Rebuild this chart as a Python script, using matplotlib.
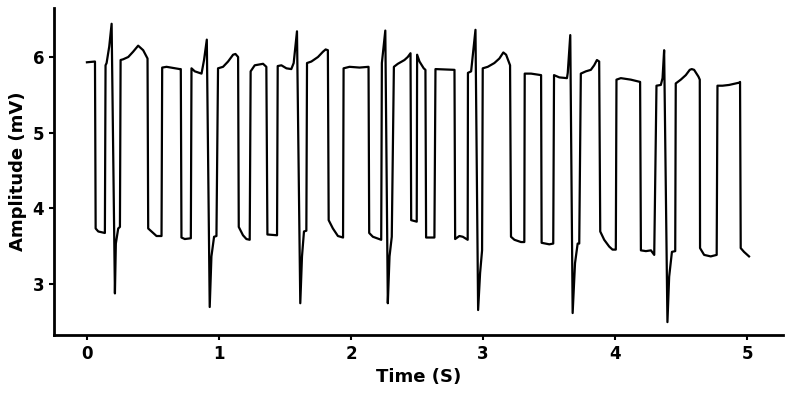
import matplotlib
matplotlib.use('Agg')
import matplotlib.pyplot as plt

# trace (time in s, amplitude in mV)
time_s = [0.000, 0.061, 0.066, 0.086, 0.136, 0.141, 0.149, 0.169, 0.187, 0.212, 0.219, 0.237, 0.250, 0.255,
          0.275, 0.313, 0.350, 0.388, 0.426, 0.459, 0.464, 0.489, 0.527, 0.565, 0.570, 0.603, 0.703,
          0.711, 0.716, 0.741, 0.787, 0.792, 0.817, 0.868, 0.887, 0.908, 0.930, 0.943, 0.963, 0.981, 0.993,
          1.031, 1.069, 1.107, 1.125, 1.145, 1.150, 1.182, 1.208, 1.233, 1.240, 1.271, 1.334, 1.359, 1.367,
          1.440, 1.445, 1.473, 1.511, 1.548, 1.566, 1.591, 1.616, 1.629, 1.644, 1.662, 1.667,
          1.700, 1.750, 1.788, 1.808, 1.825, 1.831, 1.863, 1.901, 1.940, 1.944, 1.989, 2.065, 2.133,
          2.138, 2.166, 2.229, 2.234, 2.260, 2.279, 2.292, 2.309, 2.325, 2.355, 2.405, 2.430, 2.451,
          2.456, 2.498, 2.501, 2.519, 2.551, 2.564, 2.569, 2.632, 2.640, 2.784, 2.789, 2.821, 2.847,
          2.884, 2.886, 2.910, 2.943, 2.963, 2.978, 2.993, 2.998, 3.036, 3.086, 3.124, 3.154, 3.175,
          3.205, 3.212, 3.238, 3.288, 3.313, 3.316, 3.364, 3.440, 3.444, 3.502, 3.532, 3.538, 3.578,
          3.636, 3.642, 3.661, 3.679, 3.697, 3.717, 3.729, 3.741, 3.779, 3.817, 3.842, 3.863, 3.880,
          3.888, 3.918, 3.956, 3.981, 4.006, 4.011, 4.044, 4.120, 4.190, 4.196, 4.234, 4.272, 4.297,
          4.314, 4.347, 4.360, 4.372, 4.397, 4.410, 4.431, 4.456, 4.460, 4.498, 4.536, 4.566, 4.581,
          4.599, 4.632, 4.642, 4.644, 4.675, 4.725, 4.770, 4.776, 4.814, 4.864, 4.940, 4.947, 4.952,
          4.977, 5.015]
amp_mv = [5.93, 5.94, 3.73, 3.69, 3.67, 5.89, 5.92, 6.14, 6.44, 2.87, 3.53, 3.73, 3.75, 5.96,
          5.97, 6.00, 6.07, 6.15, 6.09, 5.98, 3.73, 3.69, 3.63, 3.63, 5.86, 5.87, 5.84,
          5.84, 3.61, 3.59, 3.60, 5.85, 5.81, 5.78, 5.96, 6.23, 2.69, 3.36, 3.62, 3.63, 5.85,
          5.87, 5.94, 6.03, 6.04, 6.00, 3.75, 3.64, 3.59, 3.58, 5.81, 5.89, 5.91, 5.87, 3.65,
          3.64, 5.88, 5.89, 5.85, 5.84, 5.92, 6.34, 2.74, 3.36, 3.69, 3.70, 5.92,
          5.94, 6.00, 6.07, 6.10, 6.09, 3.84, 3.73, 3.63, 3.61, 5.85, 5.87, 5.86, 5.87,
          3.67, 3.62, 3.58, 5.92, 6.35, 2.74, 3.36, 3.62, 5.87, 5.91, 5.96, 6.00, 6.05,
          3.84, 3.82, 6.03, 5.94, 5.85, 5.83, 3.61, 3.61, 5.84, 5.83, 3.59, 3.63, 3.62,
          3.58, 5.79, 5.81, 6.36, 2.65, 3.14, 3.44, 5.85, 5.87, 5.92, 5.98, 6.06, 6.03,
          5.89, 3.62, 3.58, 3.55, 3.55, 5.78, 5.78, 5.76, 3.54, 3.52, 3.53, 5.76, 5.73,
          5.72, 5.79, 6.29, 2.61, 3.27, 3.53, 3.53, 5.78, 5.81, 5.83, 5.89, 5.96, 5.94,
          3.69, 3.58, 3.49, 3.45, 3.45, 5.70, 5.72, 5.70, 5.67, 3.44, 3.43, 3.44, 3.38,
          5.62, 5.63, 5.72, 6.09, 2.49, 3.09, 3.42, 3.43, 5.65, 5.70, 5.76, 5.83, 5.84,
          5.83, 5.74, 5.70, 3.47, 3.38, 3.36, 3.38, 5.62, 5.62, 5.63, 5.66, 5.67, 3.47,
          3.42, 3.36]

x_ticks = [0, 1, 2, 3, 4, 5]
y_ticks = [3, 4, 5, 6]

plt.rcParams['font.weight'] = 'bold'
fig = plt.figure(figsize=(7.93, 3.95), dpi=100)
ax = fig.add_axes([0.068, 0.152, 0.919, 0.828])
ax.plot(time_s, amp_mv, color='black', linewidth=1.6)
ax.set_xlim(-0.25, 5.27)
ax.set_ylim(2.32, 6.65)
ax.set_xticks(x_ticks)
ax.set_yticks(y_ticks)
ax.tick_params(labelsize=12, width=1.5)
ax.set_xlabel('Time (S)', fontsize=13, fontweight='bold')
ax.set_ylabel('Amplitude (mV)', fontsize=13, fontweight='bold')
for side in ['top', 'right']:
    ax.spines[side].set_visible(False)
for side in ['left', 'bottom']:
    ax.spines[side].set_linewidth(2)
fig.savefig('out.png', dpi=100)
